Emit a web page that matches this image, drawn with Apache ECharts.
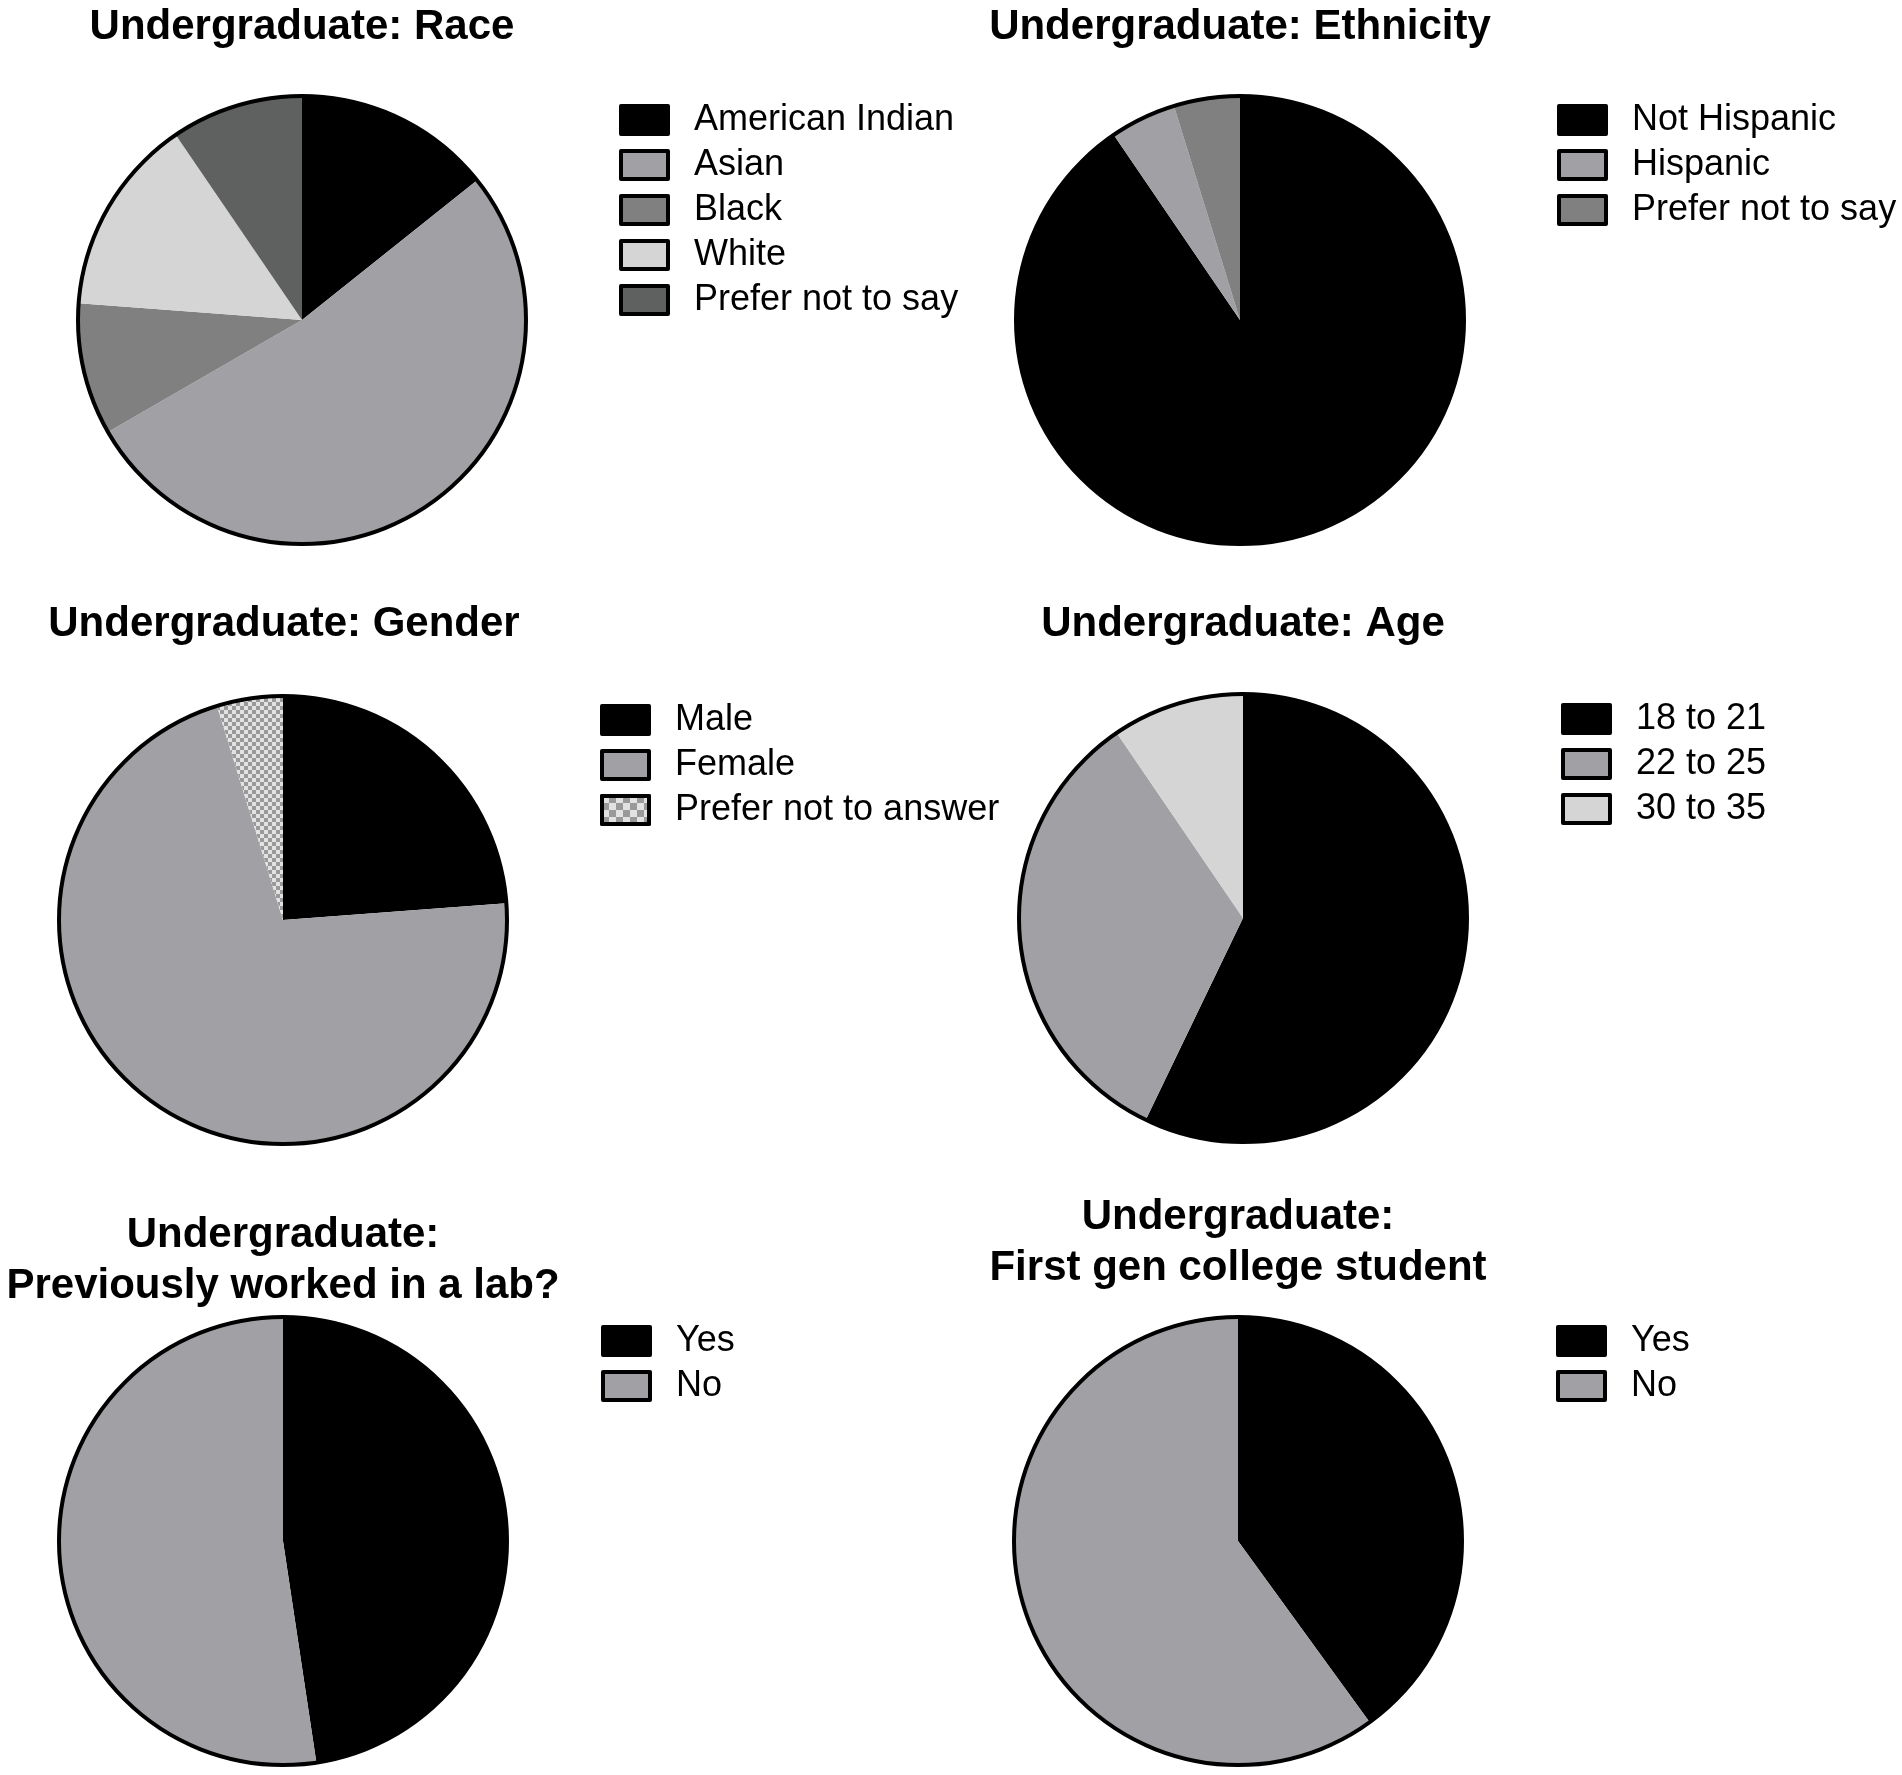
<!DOCTYPE html>
<html>
<head>
<meta charset="utf-8">
<script src="https://cdn.jsdelivr.net/npm/echarts@6/dist/echarts.min.js"></script>
<style>
  html, body { margin: 0; padding: 0; background: #ffffff; }
  #wrap { position: relative; width: 1902px; height: 1775px; background: #ffffff; overflow: hidden; }
  .panel { position: absolute; }
</style>
</head>
<body>
<div id="wrap">
  <div id="p1" class="panel" style="left:0px;top:0px;width:1100px;height:590px;"></div>
  <div id="p2" class="panel" style="left:951px;top:0px;width:951px;height:590px;"></div>
  <div id="p3" class="panel" style="left:0px;top:590px;width:1100px;height:590px;"></div>
  <div id="p4" class="panel" style="left:951px;top:590px;width:951px;height:590px;"></div>
  <div id="p5" class="panel" style="left:0px;top:1180px;width:1100px;height:595px;"></div>
  <div id="p6" class="panel" style="left:951px;top:1180px;width:951px;height:595px;"></div>
</div>
<script>
// ---- Data ----
const raceTitle = 'Undergraduate: Race';
const raceCategories = ['American Indian', 'Asian', 'Black', 'White', 'Prefer not to say'];
const raceValues = [3, 11, 2, 3, 2];

const ethnicityTitle = 'Undergraduate: Ethnicity';
const ethnicityCategories = ['Not Hispanic', 'Hispanic', 'Prefer not to say'];
const ethnicityValues = [19, 1, 1];

const genderTitle = 'Undergraduate: Gender';
const genderCategories = ['Male', 'Female', 'Prefer not to answer'];
const genderValues = [5, 15, 1];

const ageTitle = 'Undergraduate: Age';
const ageCategories = ['18 to 21', '22 to 25', '30 to 35'];
const ageValues = [12, 7, 2];

const labTitle = 'Undergraduate:\nPreviously worked in a lab?';
const labCategories = ['Yes', 'No'];
const labValues = [10, 11];

const firstGenTitle = 'Undergraduate:\nFirst gen college student';
const firstGenCategories = ['Yes', 'No'];
const firstGenValues = [8, 12];

// ---- Styles ----
const FONT = "'Liberation Sans', Arial, Helvetica, sans-serif";
function checkerDecal(size) {
  return {
    symbol: 'rect',
    symbolSize: 1,
    color: '#999999',
    dashArrayX: [[size, size], [0, size, size, 0]],
    dashArrayY: [size, 0],
    rotation: 0
  };
}
const CHECKER_BG = '#e2e2e2';

const panels = [
  { id: 'p1', title: raceTitle, cats: raceCategories, vals: raceValues,
    colors: ['#000000', '#a1a1a5', '#808080', '#d5d5d5', '#5f6060'],
    titleX: 302, titleTop: 3, lines: 1, cx: 302, cy: 320, legLeft: 619, legTop: 102 },
  { id: 'p2', title: ethnicityTitle, cats: ethnicityCategories, vals: ethnicityValues,
    colors: ['#000000', '#a1a1a5', '#808080'],
    titleX: 289, titleTop: 3, lines: 1, cx: 289, cy: 320, legLeft: 606, legTop: 102 },
  { id: 'p3', title: genderTitle, cats: genderCategories, vals: genderValues,
    colors: ['#000000', '#a1a1a5', 'checker'],
    titleX: 284, titleTop: 10, lines: 1, cx: 283, cy: 330, legLeft: 600, legTop: 112 },
  { id: 'p4', title: ageTitle, cats: ageCategories, vals: ageValues,
    colors: ['#000000', '#a1a1a5', '#d5d5d5'],
    titleX: 292, titleTop: 10, lines: 1, cx: 292, cy: 328, legLeft: 610, legTop: 111 },
  { id: 'p5', title: labTitle, cats: labCategories, vals: labValues,
    colors: ['#000000', '#a1a1a5'],
    titleX: 283, titleTop: 30, lines: 2, cx: 283, cy: 361, legLeft: 601, legTop: 143 },
  { id: 'p6', title: firstGenTitle, cats: firstGenCategories, vals: firstGenValues,
    colors: ['#000000', '#a1a1a5'],
    titleX: 287, titleTop: 12, lines: 2, cx: 287, cy: 361, legLeft: 605, legTop: 143 }
];

const R = 224;

panels.forEach(function (p) {
  const chart = echarts.init(document.getElementById(p.id), null, { renderer: 'canvas' });
  const data = p.cats.map(function (name, i) {
    const c = p.colors[i];
    const itemStyle = (c === 'checker')
      ? { color: CHECKER_BG, decal: checkerDecal(4), borderWidth: 0 }
      : { color: c, borderWidth: 0 };
    return { name: name, value: p.vals[i], itemStyle: itemStyle };
  });
  const legendData = p.cats.map(function (name, i) {
    const c = p.colors[i];
    const itemStyle = (c === 'checker')
      ? { color: CHECKER_BG, decal: checkerDecal(7), borderColor: '#000', borderWidth: 4 }
      : { color: c, borderColor: '#000', borderWidth: 4 };
    return { name: name, itemStyle: itemStyle };
  });
  const option = {
    animation: false,
    title: {
      text: p.title,
      left: p.titleX,
      top: p.titleTop,
      textAlign: 'center',
      padding: 0,
      textStyle: {
        fontFamily: FONT,
        fontWeight: 'bold',
        fontSize: 42,
        color: '#000000',
        lineHeight: p.lines === 2 ? 51 : 48
      }
    },
    legend: {
      orient: 'vertical',
      left: p.legLeft,
      top: p.legTop,
      padding: 0,
      icon: 'rect',
      itemWidth: 47,
      itemHeight: 28,
      itemGap: 9,
      align: 'left',
      selectedMode: false,
      itemStyle: { borderColor: '#000', borderWidth: 4 },
      textStyle: {
        fontFamily: FONT,
        fontSize: 36,
        color: '#000000',
        lineHeight: 36,
        padding: [0, 0, 0, 21]
      },
      data: legendData
    },
    series: [
      {
        type: 'pie',
        center: [p.cx, p.cy],
        radius: R,
        startAngle: 90,
        clockwise: true,
        silent: true,
        label: { show: false },
        labelLine: { show: false },
        itemStyle: { borderWidth: 0 },
        data: data
      },
      {
        type: 'pie',
        center: [p.cx, p.cy],
        radius: R,
        silent: true,
        label: { show: false },
        labelLine: { show: false },
        itemStyle: { color: 'rgba(0,0,0,0)', borderColor: '#000000', borderWidth: 4 },
        data: [{ name: '__outline__', value: 1 }]
      }
    ]
  };
  chart.setOption(option);
});
</script>
</body>
</html>
